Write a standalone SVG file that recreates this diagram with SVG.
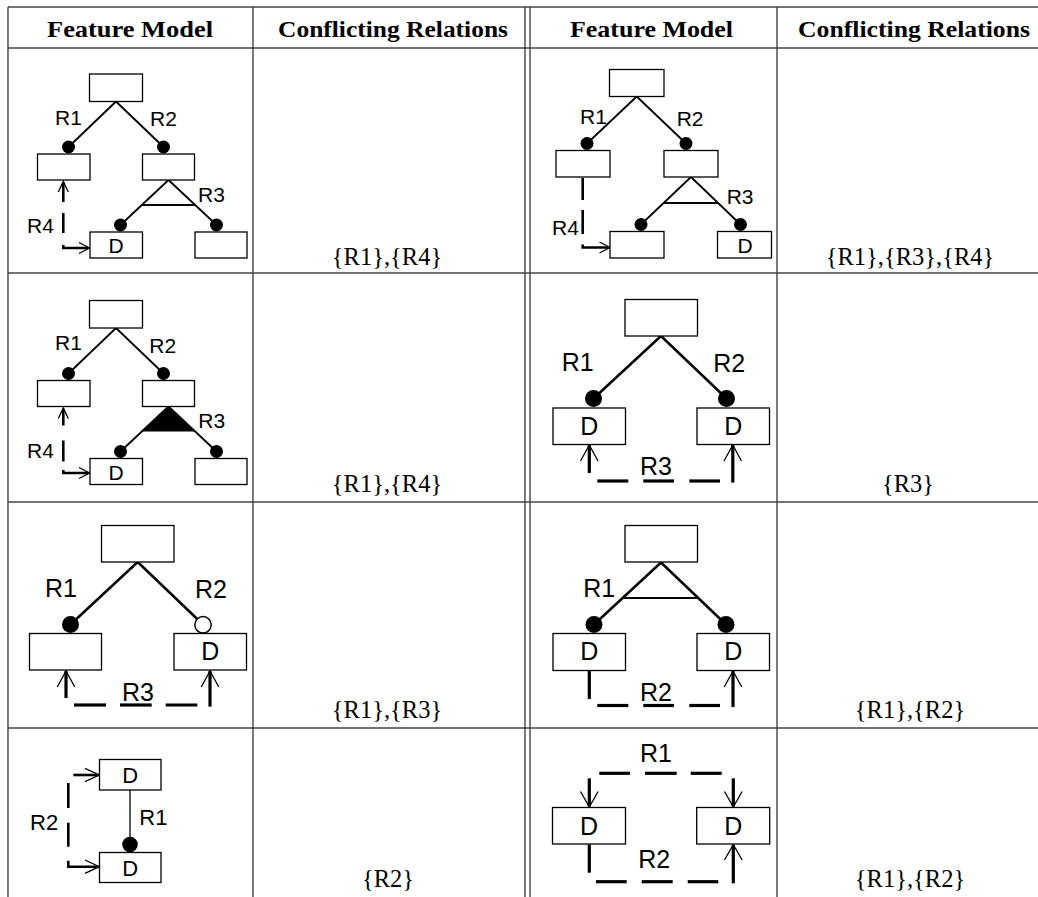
<svg xmlns="http://www.w3.org/2000/svg" width="1038" height="897" viewBox="0 0 1038 897">
<style>
.grid{stroke:#444;stroke-width:1.4;fill:none}
.box{fill:#fff;stroke:#000;stroke-width:1.3}
.edge{stroke:#000;stroke-width:1.8;fill:none}
.edgeL{stroke:#000;stroke-width:2.5;fill:none}
.dash{stroke:#000;stroke-width:2.6;fill:none}
.dashL{stroke:#000;stroke-width:3.2;fill:none}
.head{stroke:#000;stroke-width:1.3;fill:none}
.dot{fill:#000}
.odot{fill:#fff;stroke:#000;stroke-width:1.5}
.lbl{font-family:"Liberation Sans",Arial,sans-serif;font-size:21px;fill:#000}
.lblM{font-family:"Liberation Sans",Arial,sans-serif;font-size:22px;fill:#000}
.lblL{font-family:"Liberation Sans",Arial,sans-serif;font-size:25px;fill:#000}
.mid{text-anchor:middle}
.hdr{font-family:"Liberation Serif","Times New Roman",serif;font-weight:bold;font-size:23px;fill:#000}
.set{font-family:"Liberation Serif","Times New Roman",serif;font-size:24.5px;fill:#000;text-anchor:middle}
</style>

<g id="table">
<line class="grid" x1="8" y1="7" x2="1038" y2="7"/>
<line class="grid" x1="8" y1="48" x2="1038" y2="48"/>
<line class="grid" x1="8" y1="273" x2="1038" y2="273"/>
<line class="grid" x1="8" y1="502" x2="1038" y2="502"/>
<line class="grid" x1="8" y1="728" x2="1038" y2="728"/>
<line class="grid" x1="8" y1="7" x2="8" y2="897"/>
<line class="grid" x1="253" y1="7" x2="253" y2="897"/>
<line class="grid" x1="525" y1="7" x2="525" y2="897"/>
<line class="grid" x1="530" y1="7" x2="530" y2="897"/>
<line class="grid" x1="777" y1="7" x2="777" y2="897"/>
<text class="hdr" x="47" y="37" textLength="166" lengthAdjust="spacingAndGlyphs">Feature Model</text>
<text class="hdr" x="278" y="37" textLength="230" lengthAdjust="spacingAndGlyphs">Conflicting Relations</text>
<text class="hdr" x="570" y="37" textLength="163" lengthAdjust="spacingAndGlyphs">Feature Model</text>
<text class="hdr" x="798" y="37" textLength="232" lengthAdjust="spacingAndGlyphs">Conflicting Relations</text>
<text class="set" x="387" y="265">{R1},{R4}</text>
<text class="set" x="910" y="265">{R1},{R3},{R4}</text>
<text class="set" x="387" y="492">{R1},{R4}</text>
<text class="set" x="908" y="492">{R3}</text>
<text class="set" x="387" y="718">{R1},{R3}</text>
<text class="set" x="910" y="718">{R1},{R2}</text>
<text class="set" x="388" y="887">{R2}</text>
<text class="set" x="910" y="887">{R1},{R2}</text>
</g>

<!-- Row 1, column 1 -->
<g id="cell-r1c1">
<g id="r1c1-connectors">
<line class="edge" x1="116" y1="101.5" x2="68.5" y2="147"/>
<line class="edge" x1="116" y1="101.5" x2="163.5" y2="147"/>
<line class="edge" x1="168.5" y1="180" x2="120.5" y2="225"/>
<line class="edge" x1="168.5" y1="180" x2="216.5" y2="225"/>
<line class="edge" x1="141.8" y1="205" x2="195.2" y2="205"/>
<circle class="dot" cx="68.5" cy="147" r="6.5"/>
<circle class="dot" cx="163.5" cy="147" r="6.5"/>
<circle class="dot" cx="120.5" cy="225" r="6.5"/>
<circle class="dot" cx="216.5" cy="225" r="6.5"/>
<line class="dash" x1="63.3" y1="182" x2="63.3" y2="202"/>
<line class="dash" x1="63.3" y1="213" x2="63.3" y2="233"/>
<path class="dash" d="M63.3,245 V248 H88.5"/>
<polyline class="head" points="58.3,192 63.3,181.5 68.3,192"/>
<polyline class="head" points="79,242.5 89.5,248 79,253.5"/>
<text class="lbl" x="55" y="125">R1</text>
<text class="lbl" x="150" y="126">R2</text>
<text class="lbl" x="198" y="201.5">R3</text>
<text class="lbl" x="27" y="233">R4</text>
</g>
<g id="r1c1-root"><rect class="box" x="89.5" y="74" width="53" height="27.5"/></g>
<g id="r1c1-a"><rect class="box" x="37.5" y="154" width="52.5" height="26"/></g>
<g id="r1c1-b"><rect class="box" x="142.5" y="154" width="52" height="26"/></g>
<g id="r1c1-c"><rect class="box" x="90" y="232" width="52.5" height="26"/><text class="lbl mid" x="116.2" y="253">D</text></g>
<g id="r1c1-d"><rect class="box" x="195" y="232" width="52" height="26"/></g>
</g>

<!-- Row 2, column 1 -->
<g id="cell-r2c1" transform="translate(0,226.5)">
<g id="r2c1-connectors">
<line class="edge" x1="116" y1="101.5" x2="68.5" y2="147"/>
<line class="edge" x1="116" y1="101.5" x2="163.5" y2="147"/>
<line class="edge" x1="168.5" y1="180" x2="120.5" y2="225"/>
<line class="edge" x1="168.5" y1="180" x2="216.5" y2="225"/>
<polygon points="168.5,180 141.8,205 195.2,205" fill="#000"/>
<circle class="dot" cx="68.5" cy="147" r="6.5"/>
<circle class="dot" cx="163.5" cy="147" r="6.5"/>
<circle class="dot" cx="120.5" cy="225" r="6.5"/>
<circle class="dot" cx="216.5" cy="225" r="6.5"/>
<line class="dash" x1="63.3" y1="182" x2="63.3" y2="199"/>
<line class="dash" x1="63.3" y1="214" x2="63.3" y2="235"/>
<path class="dash" d="M63.3,243.5 V246.5 H88.5"/>
<polyline class="head" points="58.3,192 63.3,181.5 68.3,192"/>
<polyline class="head" points="79,241 89.5,246.5 79,252"/>
<text class="lbl" x="55" y="123.5">R1</text>
<text class="lbl" x="149.3" y="126.5">R2</text>
<text class="lbl" x="198.3" y="201.5">R3</text>
<text class="lbl" x="27" y="231.5">R4</text>
</g>
<g id="r2c1-root"><rect class="box" x="89.5" y="74" width="53" height="27.5"/></g>
<g id="r2c1-a"><rect class="box" x="37.5" y="154" width="52.5" height="26"/></g>
<g id="r2c1-b"><rect class="box" x="142.5" y="154" width="52" height="26"/></g>
<g id="r2c1-c"><rect class="box" x="90" y="232" width="52.5" height="26"/><text class="lbl mid" x="116.2" y="253">D</text></g>
<g id="r2c1-d"><rect class="box" x="195" y="232" width="52" height="26"/></g>
</g>

<!-- Row 1, column 3 -->
<g id="cell-r1c3">
<g id="r1c3-connectors">
<line class="edge" x1="636.7" y1="96.5" x2="587" y2="143.5"/>
<line class="edge" x1="636.7" y1="96.5" x2="686" y2="143.5"/>
<line class="edge" x1="691" y1="177" x2="641" y2="224.5"/>
<line class="edge" x1="691" y1="177" x2="740.5" y2="224.5"/>
<line class="edge" x1="663.6" y1="203" x2="718.2" y2="203"/>
<circle class="dot" cx="587" cy="143.5" r="6.5"/>
<circle class="dot" cx="686" cy="143.5" r="6.5"/>
<circle class="dot" cx="641" cy="224.5" r="6.5"/>
<circle class="dot" cx="740.5" cy="224.5" r="6.5"/>
<line class="dash" x1="582.7" y1="178" x2="582.7" y2="200"/>
<line class="dash" x1="582.7" y1="210" x2="582.7" y2="234"/>
<path class="dash" d="M582.7,244.5 V247.5 H608.5"/>
<polyline class="head" points="599.5,242 610,247.5 599.5,253"/>
<text class="lbl" x="580" y="124">R1</text>
<text class="lbl" x="676.7" y="126">R2</text>
<text class="lbl" x="726.7" y="204">R3</text>
<text class="lbl" x="552" y="235">R4</text>
</g>
<g id="r1c3-root"><rect class="box" x="609.5" y="69.5" width="54.5" height="27"/></g>
<g id="r1c3-a"><rect class="box" x="556" y="150.5" width="54" height="26.5"/></g>
<g id="r1c3-b"><rect class="box" x="664" y="150.5" width="54" height="26.5"/></g>
<g id="r1c3-c"><rect class="box" x="610" y="231.5" width="54" height="26.5"/></g>
<g id="r1c3-d"><rect class="box" x="717.5" y="231.5" width="54" height="26.5"/><text class="lbl mid" x="745" y="252.5">D</text></g>
</g>

<!-- Row 2, column 3 -->
<g id="cell-r2c3">
<g id="r2c3-connectors">
<line class="edgeL" x1="661" y1="336" x2="593.5" y2="398.5"/>
<line class="edgeL" x1="661" y1="336" x2="726.5" y2="398.5"/>
<circle class="dot" cx="593.5" cy="398.5" r="8.5"/>
<circle class="dot" cx="726.5" cy="398.5" r="8.5"/>
<line class="dashL" x1="589.3" y1="445" x2="589.3" y2="473"/>
<line class="dashL" x1="597.3" y1="481" x2="628.3" y2="481"/>
<line class="dashL" x1="643.3" y1="481" x2="674" y2="481"/>
<line class="dashL" x1="689.3" y1="481" x2="720" y2="481"/>
<line class="dashL" x1="732.8" y1="482.6" x2="732.8" y2="445"/>
<polyline class="head" points="580.5,461 589.3,445 598,461"/>
<polyline class="head" points="724,461 732.8,445 741.5,461"/>
<text class="lblL" x="561.7" y="370.7">R1</text>
<text class="lblL" x="713.3" y="371.7">R2</text>
<text class="lblL" x="640" y="475">R3</text>
</g>
<g id="r2c3-root"><rect class="box" x="625" y="299.5" width="72.5" height="36.5"/></g>
<g id="r2c3-a"><rect class="box" x="553" y="408" width="72.5" height="36.5"/><text class="lblL mid" x="589.2" y="435">D</text></g>
<g id="r2c3-b"><rect class="box" x="697" y="408" width="72.5" height="36.5"/><text class="lblL mid" x="733.2" y="435">D</text></g>
</g>

<!-- Row 3, column 1 -->
<g id="cell-r3c1">
<g id="r3c1-connectors">
<line class="edgeL" x1="137.7" y1="562" x2="70.5" y2="624.5"/>
<line class="edgeL" x1="137.7" y1="562" x2="203" y2="624.5"/>
<circle class="dot" cx="70.5" cy="624.5" r="8.5"/>
<circle class="odot" cx="203" cy="624.8" r="8.2"/>
<line class="dashL" x1="66" y1="671" x2="66" y2="698"/>
<line class="dashL" x1="74" y1="705" x2="106" y2="705"/>
<line class="dashL" x1="120" y1="705" x2="151.7" y2="705"/>
<line class="dashL" x1="165.7" y1="705" x2="197.3" y2="705"/>
<line class="dashL" x1="210" y1="706.6" x2="210" y2="671"/>
<polyline class="head" points="57.2,687 66,671 74.8,687"/>
<polyline class="head" points="201.2,687 210,671 218.8,687"/>
<text class="lblL" x="45" y="596.7">R1</text>
<text class="lblL" x="195" y="598.3">R2</text>
<text class="lblL" x="122" y="700.5">R3</text>
</g>
<g id="r3c1-root"><rect class="box" x="101.5" y="525.5" width="72.5" height="36.5"/></g>
<g id="r3c1-a"><rect class="box" x="29.5" y="633.5" width="72" height="36.5"/></g>
<g id="r3c1-b"><rect class="box" x="174" y="633.5" width="72.5" height="36.5"/><text class="lblL mid" x="210.2" y="660">D</text></g>
</g>

<!-- Row 3, column 3 -->
<g id="cell-r3c3">
<g id="r3c3-connectors">
<line class="edgeL" x1="661" y1="562.5" x2="594" y2="624.5"/>
<line class="edgeL" x1="661" y1="562.5" x2="726" y2="624.5"/>
<line class="edge" x1="622.6" y1="598" x2="698.3" y2="598"/>
<circle class="dot" cx="594" cy="624.5" r="8.5"/>
<circle class="dot" cx="726" cy="624.5" r="8.5"/>
<line class="dashL" x1="589.3" y1="671" x2="589.3" y2="699"/>
<line class="dashL" x1="597.3" y1="705.5" x2="628.3" y2="705.5"/>
<line class="dashL" x1="643.3" y1="705.5" x2="674" y2="705.5"/>
<line class="dashL" x1="689.3" y1="705.5" x2="720" y2="705.5"/>
<line class="dashL" x1="733" y1="707.1" x2="733" y2="671"/>
<polyline class="head" points="724.2,687 733,671 741.8,687"/>
<text class="lblL" x="583.3" y="596.7">R1</text>
<text class="lblL" x="640" y="701">R2</text>
</g>
<g id="r3c3-root"><rect class="box" x="625" y="525.5" width="72.5" height="36.5"/></g>
<g id="r3c3-a"><rect class="box" x="553" y="633.5" width="72.5" height="37"/><text class="lblL mid" x="589.2" y="660">D</text></g>
<g id="r3c3-b"><rect class="box" x="697" y="633.5" width="72.5" height="37"/><text class="lblL mid" x="733.2" y="660">D</text></g>
</g>

<!-- Row 4, column 1 -->
<g id="cell-r4c1">
<g id="r4c1-connectors">
<line class="head" x1="130" y1="790" x2="130" y2="840"/>
<circle class="dot" cx="130" cy="844.5" r="7.8"/>
<line class="dash" x1="73.3" y1="775" x2="98.5" y2="775"/>
<line class="dash" x1="68.3" y1="783" x2="68.3" y2="808"/>
<line class="dash" x1="68.3" y1="822.7" x2="68.3" y2="846.7"/>
<path class="dash" d="M68.3,860.7 V866.7 H98.5"/>
<polyline class="head" points="85,768.3 99.3,775 85,781.7"/>
<polyline class="head" points="85,860 99.3,866.7 85,873.3"/>
<text class="lblM" x="139.3" y="825">R1</text>
<text class="lblM" x="30" y="830">R2</text>
</g>
<g id="r4c1-a"><rect class="box" x="99.5" y="759.5" width="61.5" height="30.5"/><text class="lblM mid" x="130.2" y="783">D</text></g>
<g id="r4c1-b"><rect class="box" x="99.5" y="852.5" width="61.5" height="30"/><text class="lblM mid" x="130.2" y="876">D</text></g>
</g>

<!-- Row 4, column 3 -->
<g id="cell-r4c3">
<g id="r4c3-connectors">
<line class="dashL" x1="599.3" y1="773.3" x2="630" y2="773.3"/>
<line class="dashL" x1="645" y1="773.3" x2="676.7" y2="773.3"/>
<line class="dashL" x1="690.7" y1="773.3" x2="721.7" y2="773.3"/>
<line class="dashL" x1="589.3" y1="778.3" x2="589.3" y2="806.5"/>
<line class="dashL" x1="733.3" y1="778.3" x2="733.3" y2="806.5"/>
<polyline class="head" points="580.5,791.5 589.3,807 598.1,791.5"/>
<polyline class="head" points="724.5,791.5 733.3,807 742.1,791.5"/>
<line class="dashL" x1="589.3" y1="844.5" x2="589.3" y2="872.7"/>
<line class="dashL" x1="596" y1="881.7" x2="626.7" y2="881.7"/>
<line class="dashL" x1="641.7" y1="881.7" x2="672.7" y2="881.7"/>
<line class="dashL" x1="687.7" y1="881.7" x2="718.3" y2="881.7"/>
<line class="dashL" x1="733.3" y1="883.3" x2="733.3" y2="845"/>
<polyline class="head" points="724.5,860 733.3,844.5 742.1,860"/>
<text class="lblL" x="640" y="761.7">R1</text>
<text class="lblL" x="638.3" y="868.3">R2</text>
</g>
<g id="r4c3-a"><rect class="box" x="552.5" y="807.5" width="73" height="36.5"/><text class="lblL mid" x="589" y="835">D</text></g>
<g id="r4c3-b"><rect class="box" x="696.7" y="807.5" width="73" height="36.5"/><text class="lblL mid" x="733.2" y="835">D</text></g>
</g>
</svg>
